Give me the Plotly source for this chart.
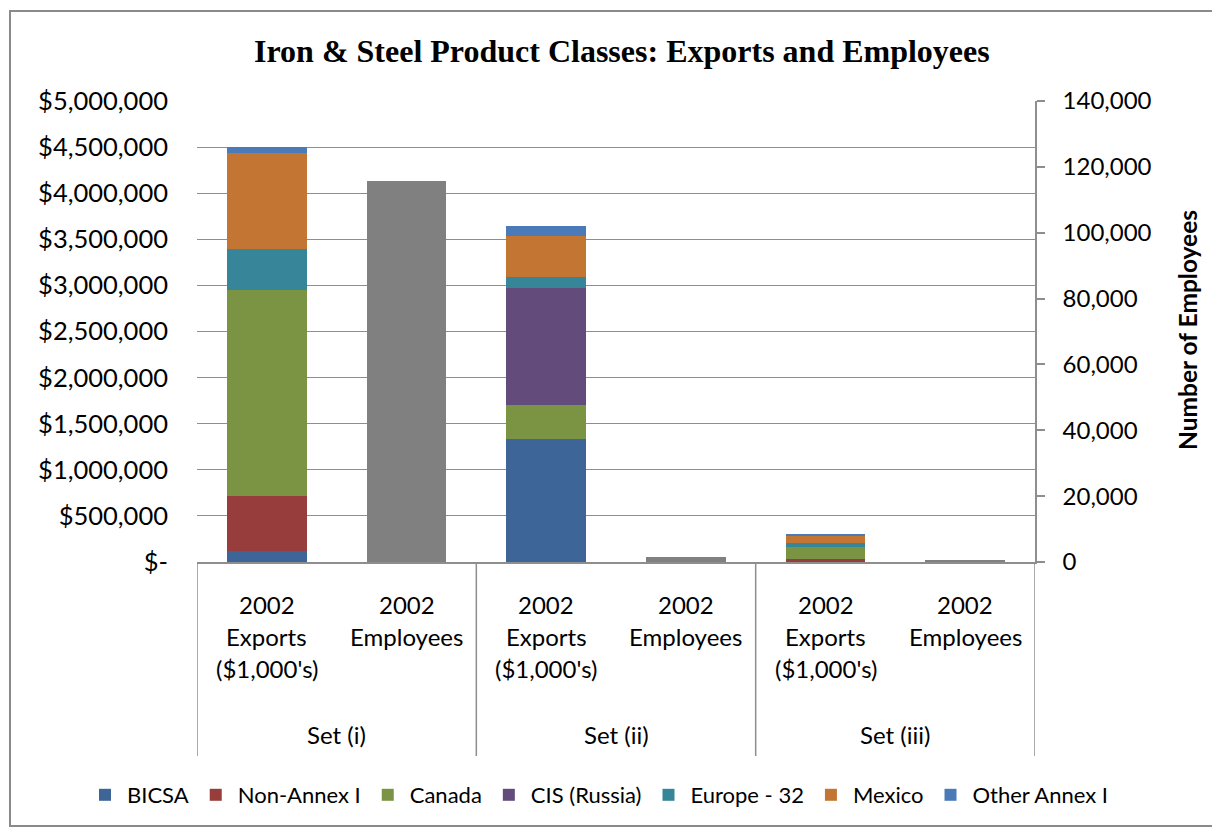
import plotly.graph_objects as go

# product class sets and sub-categories
sets = ["Set (i)", "Set (ii)", "Set (iii)"]
sub_labels = [["2002", "Exports", "($1,000's)"], ["2002", "Employees"]]

# exports by region ($1,000's), one value per set
regions = ["BICSA", "Non-Annex I", "Canada", "CIS (Russia)", "Europe - 32", "Mexico", "Other Annex I"]
bicsa = [120000, 1331000, 5000]
non_annex = [596000, 0, 33000]
canada = [2234000, 372000, 122000]
cis = [0, 1272000, 0]
europe = [445000, 119000, 47000]
mexico = [1041000, 442000, 80000]
other_annex = [62000, 108000, 14000]
employees = [115700, 1500, 730]

colors = ["#3D6597", "#973D3B", "#7A9443", "#634C7C", "#378599", "#C37634", "#4A7AB7"]

left_ticks = [0, 500000, 1000000, 1500000, 2000000, 2500000, 3000000, 3500000, 4000000, 4500000, 5000000]
right_ticks = [0, 20000, 40000, 60000, 80000, 100000, 120000, 140000]

FONT = "Lato"
GRID = "#8E8E8E"

# plot area in screen pixels; page body adds an 8px offset
OFF = 8
L, R, T, B = 197, 1035, 101, 562
W, H = 1220, 829
def px_x(x):
    return (x - L) / (R - L)
def px_y(y):
    return (B - y) / (B - T)

export_x = [2 * i for i in range(len(sets))]
emp_x = [2 * i + 1 for i in range(len(sets))]

fig = go.Figure()
series = [bicsa, non_annex, canada, cis, europe, mexico, other_annex]
for name, vals, c in zip(regions, series, colors):
    fig.add_trace(go.Bar(x=export_x, y=vals, name=name, marker_color=c,
                         marker_line_width=0, width=0.57))
fig.add_trace(go.Bar(x=emp_x, y=employees, name="Employees", marker_color="#808080",
                     marker_line_width=0, width=0.57, yaxis="y2", showlegend=False))

left_text = ["$-" if v == 0 else "${:,}".format(v) for v in left_ticks]
right_text = ["{:,}".format(v) for v in right_ticks]

fig.update_layout(
    width=W, height=H,
    margin=dict(l=L - OFF, r=W - R + OFF, t=T - OFF, b=H - B + OFF, autoexpand=False),
    paper_bgcolor="white", plot_bgcolor="white",
    barmode="stack",
    font=dict(family=FONT, size=24, color="black"),
    xaxis=dict(range=[-0.5, 5.5], showticklabels=False, showgrid=False, zeroline=False,
               showline=True, linecolor=GRID, linewidth=1.5, fixedrange=True),
    yaxis=dict(range=[0, 5000000], tickvals=left_ticks, ticktext=left_text,
               tickfont=dict(size=25.5),
               showgrid=True, gridcolor=GRID, gridwidth=1.3, zeroline=False,
               showline=False, ticklabelstandoff=28),
    yaxis2=dict(range=[0, 140000], tickvals=right_ticks, ticktext=right_text,
                tickfont=dict(size=24),
                overlaying="y", side="right", showgrid=False, zeroline=False,
                showline=True, linecolor=GRID, linewidth=1.5,
                ticks="outside", ticklen=8, tickcolor=GRID, tickwidth=1.5,
                ticklabelstandoff=13),
    legend=dict(orientation="h", x=px_x(83), xanchor="left",
                y=px_y(795), yanchor="middle",
                font=dict(size=22), traceorder="normal", itemwidth=34),
    showlegend=True,
)

ann = []
ann.append(dict(text="<b>Iron & Steel Product Classes: Exports and Employees</b>",
                x=px_x(622), y=px_y(51), xref="paper", yref="paper", showarrow=False,
                font=dict(family="Liberation Serif", size=32, color="black"),
                xanchor="center", yanchor="middle"))
ann.append(dict(text="<b>Number of Employees</b>", x=px_x(1187), y=px_y(330),
                xref="paper", yref="paper", showarrow=False, textangle=-90,
                font=dict(size=24.5), xanchor="center", yanchor="middle"))

# category labels, line by line
for i, s in enumerate(sets):
    for j, lines in enumerate(sub_labels):
        for k, line in enumerate(lines):
            ann.append(dict(text=line, x=2 * i + j, y=px_y(604 + 32 * k), xref="x", yref="paper",
                            showarrow=False, xanchor="center", yanchor="middle"))
    ann.append(dict(text=s, x=2 * i + 0.5, y=px_y(734), xref="x", yref="paper",
                    showarrow=False, xanchor="center", yanchor="middle"))
fig.update_layout(annotations=ann)

shapes = []
for xd in [-0.5, 1.5, 3.5, 5.5]:
    shapes.append(dict(type="line", x0=xd, x1=xd, xref="x", yref="paper",
                       y0=0, y1=px_y(756), line=dict(color=GRID, width=1.5)))
# chart border
shapes.append(dict(type="rect", xref="paper", yref="paper",
                   x0=px_x(10), x1=px_x(1213), y0=px_y(826), y1=px_y(11),
                   line=dict(color="#8A8A8A", width=2), fillcolor="rgba(0,0,0,0)"))
fig.update_layout(shapes=shapes)

fig.write_html("out.html")
